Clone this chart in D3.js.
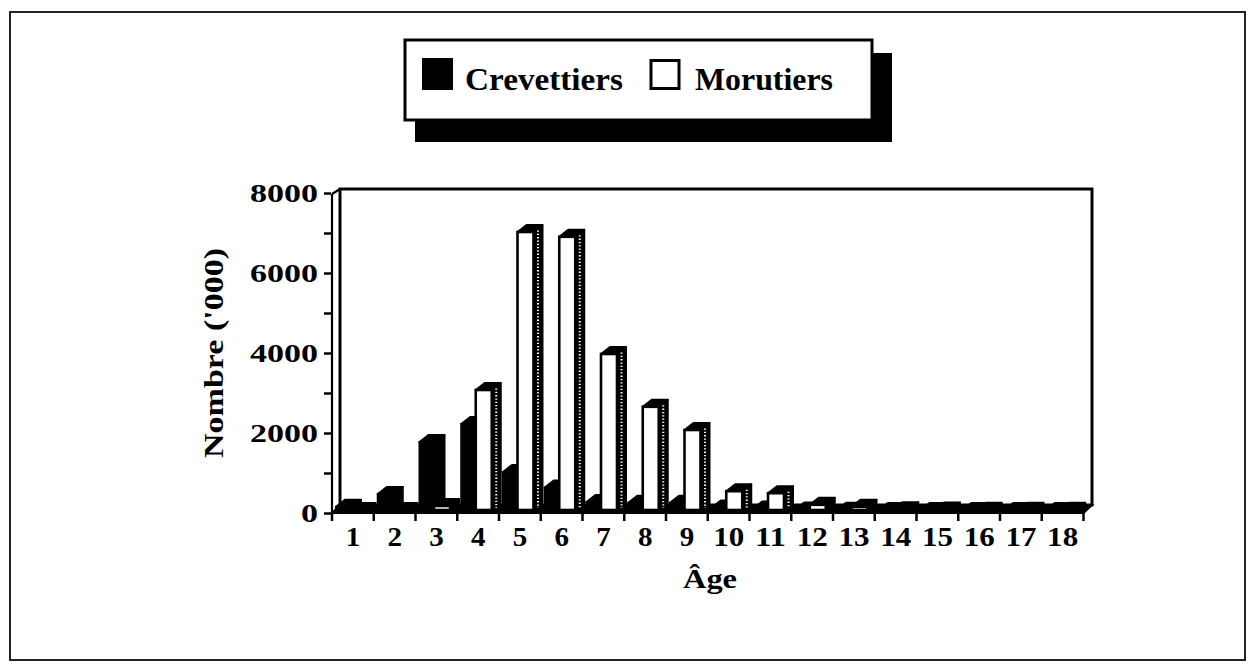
<!DOCTYPE html>
<html>
<head>
<meta charset="utf-8">
<script src="https://cdn.jsdelivr.net/npm/d3@7"></script>
<style>
  html, body { margin: 0; padding: 0; background: #fff; }
  svg { display: block; }
  text { font-family: "Liberation Serif", "Times New Roman", serif; font-weight: bold; fill: #000; }
</style>
</head>
<body>
<svg id="chart" width="1255" height="672"></svg>
<script>
// ---- data ----
const ages = [1, 2, 3, 4, 5, 6, 7, 8, 9, 10, 11, 12, 13, 14, 15, 16, 17, 18];
const crevettiers = [80, 400, 1700, 2150, 950, 560, 200, 180, 180, 60, 40, 10, 5, 0, 0, 0, 0, 0];
const morutiers   = [0, 0, 100, 3000, 6950, 6830, 3900, 2580, 2000, 470, 420, 130, 80, 20, 10, 5, 5, 5];
const seriesNames = ["Crevettiers", "Morutiers"];
const yTicks = [0, 1000, 2000, 3000, 4000, 5000, 6000, 7000, 8000];
const yLabelTicks = [0, 2000, 4000, 6000, 8000];
const yTitle = "Nombre ('000)";
const xTitle = "Âge";

const svg = d3.select("#chart");

// outer frame
svg.append("rect").attr("x", 10).attr("y", 12).attr("width", 1235).attr("height", 648)
  .attr("fill", "none").attr("stroke", "#222").attr("stroke-width", 2);

// scales
const x = d3.scaleBand().domain(ages).range([332, 1083.5]).padding(0);
const y = d3.scaleLinear().domain([0, 8000]).range([513, 193]);

const dx = 9, dy = -7;   // depth offset of the 3D effect
const back = { x0: x.range()[0] + 8, x1: x.range()[1] + 8.5, top: y(8000) - 4, bottom: y(0) - 8 };

// back wall
svg.append("rect").attr("x", back.x0).attr("y", back.top)
  .attr("width", back.x1 - back.x0).attr("height", back.bottom - back.top)
  .attr("fill", "none").attr("stroke", "#000").attr("stroke-width", 3);

// left wall front edge + top connector
svg.append("line").attr("x1", x.range()[0]).attr("x2", x.range()[0])
  .attr("y1", y(8000) + 1).attr("y2", y(0))
  .attr("stroke", "#000").attr("stroke-width", 2.2);
svg.append("line").attr("x1", x.range()[0]).attr("y1", y(8000) + 1)
  .attr("x2", back.x0).attr("y2", back.top)
  .attr("stroke", "#000").attr("stroke-width", 2.2);

// floor
svg.append("polygon")
  .attr("points", [[x.range()[0], y(0)], [back.x0, back.bottom], [back.x1, back.bottom], [x.range()[1], y(0)]].map(p => p.join(",")).join(" "))
  .attr("fill", "#000").attr("stroke", "#000").attr("stroke-width", 2);

// bars
const fw = 16;
const base = y(0) - 3;
function bar(g, x0, v, white) {
  const top = y(v) - 3;
  // side
  g.append("polygon")
    .attr("points", [[x0 + fw, top], [x0 + fw + dx, top + dy], [x0 + fw + dx, base + dy], [x0 + fw, base]].map(p => p.join(",")).join(" "))
    .attr("fill", "#000").attr("stroke", "#000").attr("stroke-width", 2).attr("stroke-linejoin", "round");
  // top cap
  g.append("polygon")
    .attr("points", [[x0, top], [x0 + dx, top + dy], [x0 + fw + dx, top + dy], [x0 + fw, top]].map(p => p.join(",")).join(" "))
    .attr("fill", "#000").attr("stroke", "#000").attr("stroke-width", 2).attr("stroke-linejoin", "round");
  if (white) {
    // dotted halftone on side
    if (base - top > 6) {
      g.append("line")
        .attr("x1", x0 + fw + dx / 2).attr("x2", x0 + fw + dx / 2)
        .attr("y1", top + dy / 2 + 2).attr("y2", base - 2)
        .attr("stroke", "#fff").attr("stroke-width", 2).attr("stroke-dasharray", "1.3,2");
    }
    g.append("rect").attr("x", x0).attr("y", top).attr("width", fw).attr("height", Math.max(0, base - top))
      .attr("fill", "#fff").attr("stroke", "#000").attr("stroke-width", 2.6);
  } else {
    g.append("rect").attr("x", x0).attr("y", top).attr("width", fw).attr("height", Math.max(0, base - top))
      .attr("fill", "#000").attr("stroke", "#000").attr("stroke-width", 2);
  }
}
const barsG = svg.append("g");
ages.forEach((a, i) => {
  const g = barsG.append("g");
  bar(g, x(a) + 4, crevettiers[i], false);
  bar(g, x(a) + 18.5, morutiers[i], true);
});

// y axis ticks and labels
const yAxis = d3.axisLeft(y).tickValues(yTicks).tickSize(7).tickPadding(6)
  .tickFormat(d => yLabelTicks.includes(d) ? d3.format("d")(d) : "");
const yg = svg.append("g").attr("transform", `translate(${x.range()[0] - 1},0)`).call(yAxis);
yg.select(".domain").remove();
yg.selectAll(".tick line").attr("stroke", "#000").attr("stroke-width", 2.5);
yg.selectAll(".tick text").attr("font-size", 26)
  .attr("font-family", "Liberation Serif").attr("font-weight", "bold").attr("fill", "#000")
  .each(function () {
    const t = d3.select(this);
    const n = t.text().length;
    if (n > 0) t.attr("textLength", n * 17).attr("lengthAdjust", "spacingAndGlyphs");
  });

// x axis labels (centered on categories) and tick marks at band boundaries
const xAxis = d3.axisBottom(x).tickSize(0).tickPadding(14);
const xg = svg.append("g").attr("transform", `translate(0,${y(0)})`).call(xAxis);
xg.select(".domain").remove();
xg.selectAll(".tick text").attr("font-size", 27)
  .attr("font-family", "Liberation Serif").attr("font-weight", "bold").attr("fill", "#000")
  .each(function () {
    const t = d3.select(this);
    const n = t.text().length;
    t.attr("textLength", n === 1 ? 14.5 : 31).attr("lengthAdjust", "spacingAndGlyphs");
  });
const bounds = ages.map(a => x(a)).concat([x.range()[1]]);
svg.append("g").selectAll("line").data(bounds).join("line")
  .attr("x1", d => d).attr("x2", d => d).attr("y1", y(0)).attr("y2", y(0) + 8)
  .attr("stroke", "#000").attr("stroke-width", 2.5);

// axis titles
svg.append("text").attr("transform", "translate(223,353) rotate(-90)")
  .attr("text-anchor", "middle").attr("font-size", 27)
  .attr("textLength", 210).attr("lengthAdjust", "spacingAndGlyphs").text(yTitle);
svg.append("text").attr("x", 710).attr("y", 588)
  .attr("text-anchor", "middle").attr("font-size", 27)
  .attr("textLength", 54).attr("lengthAdjust", "spacingAndGlyphs").text(xTitle);

// legend
svg.append("rect").attr("x", 415).attr("y", 53).attr("width", 477).attr("height", 89).attr("fill", "#000");
svg.append("rect").attr("x", 405).attr("y", 40).attr("width", 467).attr("height", 80)
  .attr("fill", "#fff").attr("stroke", "#000").attr("stroke-width", 3);
const legendItems = [
  { name: seriesNames[0], sx: 422, tx: 465, tw: 158, white: false },
  { name: seriesNames[1], sx: 651, tx: 695, tw: 138, white: true }
];
legendItems.forEach(it => {
  if (it.white) {
    svg.append("rect").attr("x", it.sx).attr("y", 60.5).attr("width", 28).attr("height", 28)
      .attr("fill", "#fff").attr("stroke", "#000").attr("stroke-width", 3);
  } else {
    svg.append("rect").attr("x", it.sx).attr("y", 58).attr("width", 31).attr("height", 32).attr("fill", "#000");
  }
  svg.append("text").attr("x", it.tx).attr("y", 90).attr("font-size", 32)
    .attr("textLength", it.tw).attr("lengthAdjust", "spacingAndGlyphs").text(it.name);
});
</script>
</body>
</html>
